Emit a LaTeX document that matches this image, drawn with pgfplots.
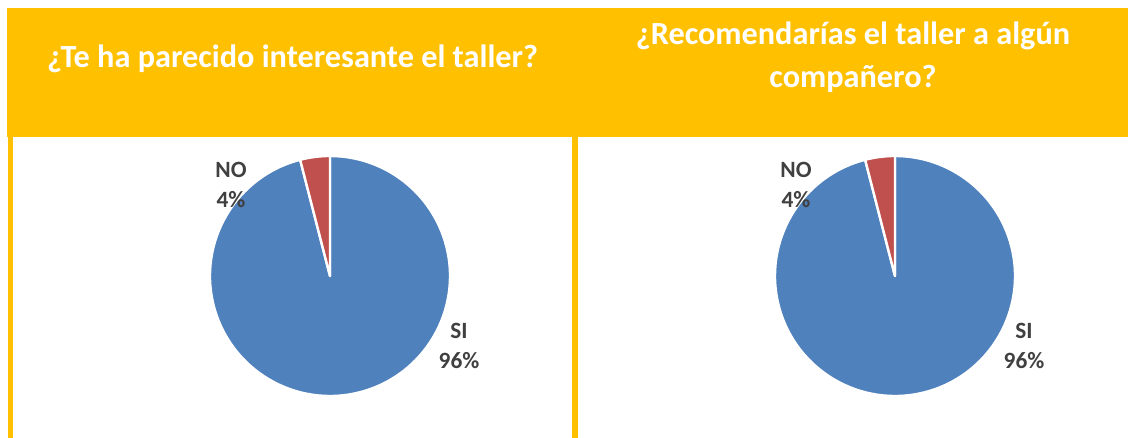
\documentclass[border=0pt]{standalone}
\usepackage{pgfplots}
\pgfplotsset{compat=1.18}
\usepackage{pgfplotstable}
\usepackage{fontspec}
\setmainfont{Carlito}
\definecolor{gold}{HTML}{FFC000}
\definecolor{pieblue}{HTML}{4F81BD}
\definecolor{piered}{HTML}{C0504D}
\definecolor{lblgray}{HTML}{404040}

% Pie 1: ¿Te ha parecido interesante el taller?
\pgfplotstableread{
label value
SI 96
NO 4
}\dataA
% Pie 2: ¿Recomendarías el taller a algún compañero?
\pgfplotstableread{
label value
SI 96
NO 4
}\dataB

\newcommand\piechart[2]{% #1 table, #2 center
  \pgfplotstablegetelem{1}{value}\of#1\let\vNO\pgfplotsretval
  \pgfplotstablegetelem{0}{value}\of#1\let\vSI\pgfplotsretval
  \pgfmathsetmacro\aNO{90+3.6*\vNO}
  \begin{axis}[at={#2}, anchor=center, hide axis, x=90pt, y=90pt,
      xmin=-1, xmax=1, ymin=-1, ymax=1, clip=false]
    \filldraw[fill=pieblue, draw=white, line width=1.8pt, line join=round]
      (axis cs:0,0) -- ++(\aNO:90pt) arc[start angle=\aNO, end angle=450, radius=90pt] -- cycle;
    \filldraw[fill=piered, draw=white, line width=1.8pt, line join=round]
      (axis cs:0,0) -- ++(90:90pt) arc[start angle=90, end angle=\aNO, radius=90pt] -- cycle;
    \node[anchor=base, text=lblgray, font=\fontsize{17.5}{20}\selectfont\bfseries] at (axis cs:-0.825,0.819) {NO};
    \node[anchor=base, text=lblgray, font=\fontsize{17.5}{20}\selectfont\bfseries] at (axis cs:-0.825,0.569) {\vNO\%};
    \node[anchor=base, text=lblgray, font=\fontsize{17.5}{20}\selectfont\bfseries] at (axis cs:1.075,-0.525) {SI};
    \node[anchor=base, text=lblgray, font=\fontsize{17.5}{20}\selectfont\bfseries] at (axis cs:1.075,-0.767) {\vSI\%};
  \end{axis}}

\begin{document}
\begin{tikzpicture}[x=1pt,y=1pt]
  \path (0,0) rectangle (846,328.5);
  \fill[gold] (5.25,225.75) rectangle (846,322.5);
  \fill[gold] (6,0) rectangle (9.75,225.75);
  \fill[gold] (429,0) rectangle (433.5,225.75);
  \node[anchor=base, text=white, font=\fontsize{24.2}{32}\selectfont\bfseries, inner sep=0pt]
    at (219.4,277.5) {¿Te ha parecido interesante el taller?};
  \node[anchor=base, text=white, font=\fontsize{24.2}{32}\selectfont\bfseries, inner sep=0pt]
    at (639.75,294.75) {¿Recomendarías el taller a algún};
  \node[anchor=base, text=white, font=\fontsize{24.2}{32}\selectfont\bfseries, inner sep=0pt]
    at (639.75,262.5) {compañero?};
  \piechart{\dataA}{(247.5pt,121.5pt)}
  \piechart{\dataB}{(671.25pt,121.5pt)}
\end{tikzpicture}
\end{document}
